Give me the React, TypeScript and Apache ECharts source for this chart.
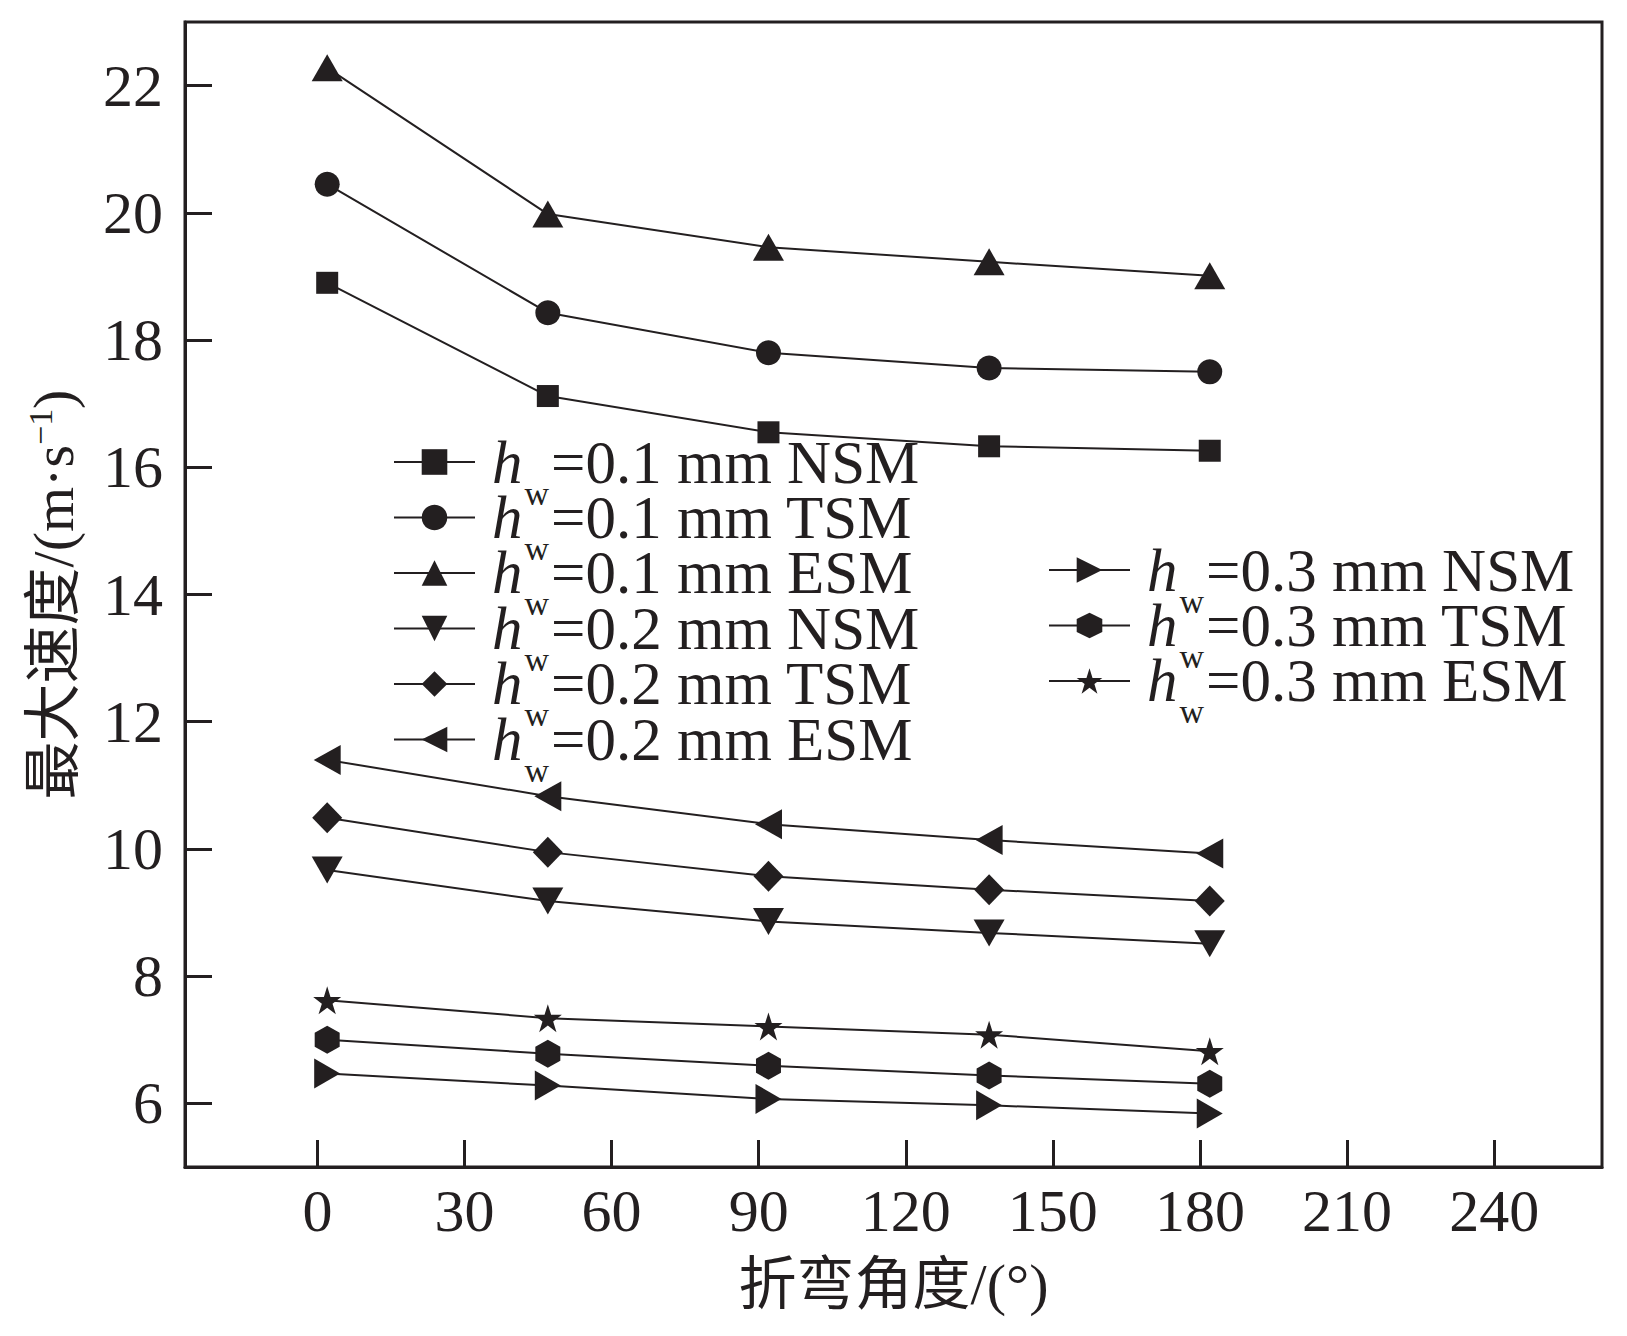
import React, { useEffect, useRef } from "react";
import * as echarts from "echarts";

const angles = [2, 47, 92, 137, 182];
const nsm01 = [18.9, 17.12, 16.55, 16.33, 16.26];
const tsm01 = [20.45, 18.43, 17.8, 17.56, 17.5];
const esm01 = [22.28, 19.98, 19.46, 19.23, 19.01];
const nsm02 = [9.67, 9.18, 8.86, 8.68, 8.51];
const tsm02 = [10.49, 9.95, 9.57, 9.36, 9.18];
const esm02 = [11.4, 10.83, 10.39, 10.14, 9.93];
const nsm03 = [6.47, 6.28, 6.07, 5.97, 5.84];
const tsm03 = [7.0, 6.78, 6.59, 6.44, 6.31];
const esm03 = [7.62, 7.34, 7.21, 7.08, 6.82];

const xTicks = [0, 30, 60, 90, 120, 150, 180, 210, 240];
const yTicks = [6, 8, 10, 12, 14, 16, 18, 20, 22];

const seriesNames = [
  "=0.1 mm NSM",
  "=0.1 mm TSM",
  "=0.1 mm ESM",
  "=0.2 mm NSM",
  "=0.2 mm TSM",
  "=0.2 mm ESM",
  "=0.3 mm NSM",
  "=0.3 mm TSM",
  "=0.3 mm ESM",
];
const seriesValues = [nsm01, tsm01, esm01, nsm02, tsm02, esm02, nsm03, tsm03, esm03];

const INK = "#231f20";
const FONT = "'Liberation Serif', 'Times New Roman', 'Noto Sans CJK SC', serif";

const HEX = "path://M5,0 L10,2.887 L10,8.66 L5,11.547 L0,8.66 L0,2.887 Z";
const STAR =
  "path://M50,0 L61.8,36.2 L100,36.2 L69.1,58.8 L80.9,95.1 L50,72.7 L19.1,95.1 L30.9,58.8 L0,36.2 L38.2,36.2 Z";
const TRI_UP = "path://M5,0 L10,10 L0,10 Z";
const TRI_DOWN = "path://M0,0 L10,0 L5,10 Z";
const TRI_LEFT = "path://M0,5 L10,0 L10,10 Z";
const TRI_RIGHT = "path://M0,0 L10,5 L0,10 Z";

const symbols: any[] = [
  ["rect", 22],
  ["circle", 25],
  [TRI_UP, [31, 27]],
  [TRI_DOWN, [31, 27]],
  ["diamond", [30, 31]],
  [TRI_LEFT, [27, 30]],
  [TRI_RIGHT, [26, 30]],
  [HEX, [25, 28]],
  [STAR, 28],
];

export default function App() {
  const ref = useRef<HTMLDivElement>(null);
  useEffect(() => {
    if (!ref.current) return;
    const chart = echarts.init(ref.current, undefined, { renderer: "svg" });

    const legendRich = {
      h: { fontFamily: FONT, fontStyle: "italic", fontSize: 61, color: INK, padding: [0, 0, 0, 12] },
      w: { fontFamily: FONT, fontSize: 34, color: INK, lineHeight: 20, padding: [62, 2, 0, 2] },
      t: { fontFamily: FONT, fontSize: 61, color: INK },
    };
    const legendFormatter = (name: string) => `{h|h}{w|w}{t|${name}}`;

    const series = seriesValues.map((vals, i) => ({
      name: seriesNames[i],
      type: "line",
      data: angles.map((a, j) => [a, vals[j]]),
      symbol: symbols[i][0],
      symbolSize: symbols[i][1],
      showSymbol: true,
      lineStyle: { color: INK, width: 2 },
      itemStyle: { color: INK },
      z: 3,
    }));

    const legendBase = {
      orient: "vertical",
      padding: 0,
      itemGap: -40.5,
      itemWidth: 81,
      itemHeight: 32,
      formatter: legendFormatter,
      textStyle: { rich: legendRich, fontFamily: FONT, fontSize: 61, color: INK },
      selectedMode: false,
    };

    chart.setOption({
      animation: false,
      backgroundColor: "#ffffff",
      grid: {
        left: 185,
        right: 25,
        top: 22,
        bottom: 169,
        show: true,
        borderColor: INK,
        borderWidth: 3,
        backgroundColor: "transparent",
      },
      legend: [
        { ...legendBase, data: seriesNames.slice(0, 6), left: 393, top: 414 },
        { ...legendBase, data: seriesNames.slice(6), left: 1048, top: 522 },
      ],
      xAxis: {
        type: "value",
        min: -27,
        max: 262,
        name: "折弯角度/(°)",
        nameLocation: "middle",
        nameGap: 88,
        nameTextStyle: { fontFamily: FONT, fontSize: 58, color: INK, verticalAlign: "top" },
        axisLine: { show: true, onZero: false, lineStyle: { color: INK, width: 3 } },
        axisTick: { show: true, inside: true, length: 27, lineStyle: { color: INK, width: 3 }, customValues: xTicks },
        axisLabel: { fontFamily: FONT, fontSize: 60, color: INK, margin: 14, customValues: xTicks },
        splitLine: { show: false },
      },
      yAxis: {
        type: "value",
        min: 5,
        max: 23,
        name: "{a|最大速度/(m·s}{s|−1}{a|)}",
        nameLocation: "middle",
        nameGap: 102,
        nameTextStyle: {
          rich: {
            a: { fontFamily: FONT, fontSize: 58, color: INK, lineHeight: 60 },
            s: { fontFamily: FONT, fontSize: 34, color: INK, lineHeight: 34, verticalAlign: "top" },
          },
        },
        axisLine: { show: true, onZero: false, lineStyle: { color: INK, width: 3 } },
        axisTick: { show: true, inside: true, length: 27, lineStyle: { color: INK, width: 3 }, customValues: yTicks },
        axisLabel: { fontFamily: FONT, fontSize: 60, color: INK, margin: 22, customValues: yTicks },
        splitLine: { show: false },
      },
      series,
    });
    return () => chart.dispose();
  }, []);
  return (
    <div
      ref={ref}
      style={{ position: "fixed", left: 0, top: 0, width: 1627, height: 1336, background: "#fff" }}
    />
  );
}
